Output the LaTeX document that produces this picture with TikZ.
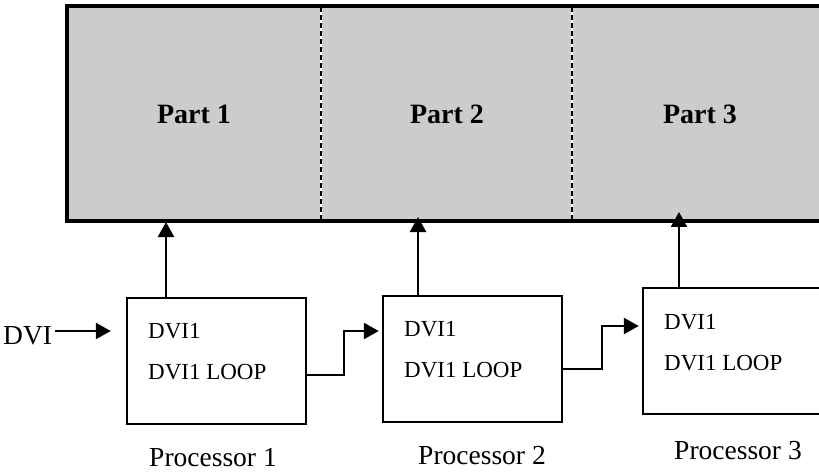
\documentclass[tikz,border=0pt]{standalone}
\usepackage{fontspec}
\setmainfont{Liberation Serif}
\usetikzlibrary{arrows.meta}
\definecolor{panelgray}{HTML}{CCCCCC}
\tikzset{
  proc/.style={draw, line width=2.4pt, minimum width=179pt, minimum height=126pt, inner sep=0pt, fill=white},
  arr/.style={line width=2.4pt, -{Triangle[length=15pt,width=16pt]}},
  divider/.style={line width=2pt, dash pattern=on 5pt off 3pt},
  boxtxt/.style={anchor=base west, inner sep=0pt, font=\fontsize{23}{27}\selectfont},
  captxt/.style={anchor=base, inner sep=0pt, font=\fontsize{27.5}{32}\selectfont},
  parttxt/.style={anchor=base, inner sep=0pt, font=\fontsize{28}{32}\selectfont\bfseries},
}
\begin{document}
\begin{tikzpicture}[x=1pt,y=-1pt]
\useasboundingbox (0,0) rectangle (819,473);
\clip (0,0) rectangle (819,473);

% shared panel split into three parts
\draw[fill=panelgray, line width=3.2pt] (67,6) rectangle (840,221);
\foreach \xx in {321,572}{
  \draw[white, line width=2pt] (\xx,7) -- (\xx,220);
  \draw[divider] (\xx,7) -- (\xx,220);
}
\node[parttxt] (part1) at (194,124) {Part 1};
\node[parttxt] (part2) at (447,124) {Part 2};
\node[parttxt] (part3) at (700,124) {Part 3};

% processors
\node[proc] (p1) at (216.5,361) {};
\node[proc] (p2) at (472.5,359) {};
\node[proc] (p3) at (732.5,351) {};

\node[boxtxt] (t1a) at (148,338) {DVI1};
\node[boxtxt] (t1b) at (148,379) {DVI1 LOOP};
\node[boxtxt] (t2a) at (404,336) {DVI1};
\node[boxtxt] (t2b) at (404,377) {DVI1 LOOP};
\node[boxtxt] (t3a) at (664,329) {DVI1};
\node[boxtxt] (t3b) at (664,370) {DVI1 LOOP};

\node[captxt] (lab1) at (213,466) {Processor 1};
\node[captxt] (lab2) at (482,464) {Processor 2};
\node[captxt] (lab3) at (738,459) {Processor 3};

% input
\node[anchor=base west, inner sep=0pt, font=\fontsize{27.5}{32}\selectfont] (dvi) at (3,344) {DVI};
\coordinate (in1) at (0,331);
\draw[arr, shorten <=3pt, shorten >=15pt] (dvi.east |- in1) -- (p1.west |- in1);

% outputs to the panel
\coordinate (u1) at (166,222);
\coordinate (u2) at (418,217);
\coordinate (u3) at (679,212);
\draw[arr] (p1.north -| u1) -- (u1);
\draw[arr] (p2.north -| u2) -- (u2);
\draw[arr] (p3.north -| u3) -- (u3);

% loop chain between processors
\coordinate (k1a) at (344,375);
\coordinate (k1b) at (344,331);
\coordinate (k2a) at (602,369);
\coordinate (k2b) at (602,326);
\draw[arr, shorten >=3pt] (p1.east |- k1a) -- (k1a) -- (k1b) -- (p2.west |- k1b);
\draw[arr, shorten >=3pt] (p2.east |- k2a) -- (k2a) -- (k2b) -- (p3.west |- k2b);
\end{tikzpicture}
\end{document}
